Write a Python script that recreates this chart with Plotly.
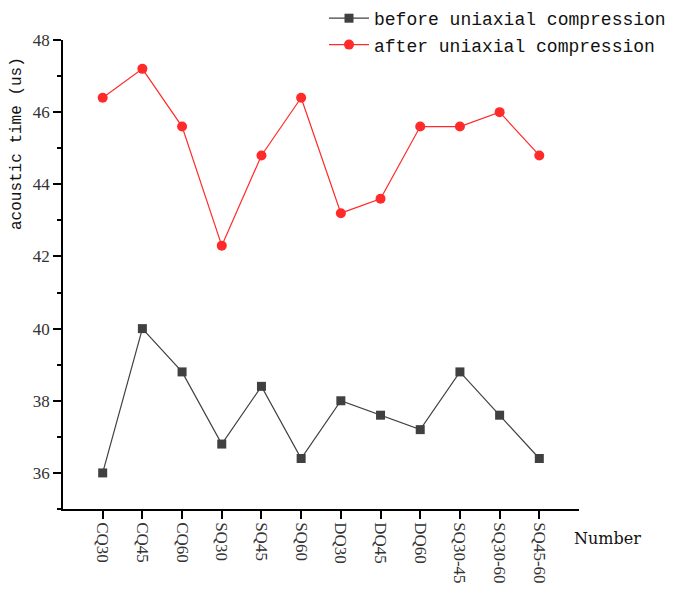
import plotly.graph_objects as go

samples = ["CQ30", "CQ45", "CQ60", "SQ30", "SQ45", "SQ60",
           "DQ30", "DQ45", "DQ60", "SQ30-45", "SQ30-60", "SQ45-60"]
before = [36.0, 40.0, 38.8, 36.8, 38.4, 36.4, 38.0, 37.6, 37.2, 38.8, 37.6, 36.4]
after = [46.4, 47.2, 45.6, 42.3, 44.8, 46.4, 43.2, 43.6, 45.6, 45.6, 46.0, 44.8]
y_ticks = [36, 38, 40, 42, 44, 46, 48]

idx = list(range(len(samples)))

# page has an 8px body offset, so margins are shifted to compensate
OFF = 8
W, H = 685, 597
L, T = 63 - OFF, 40 - OFF
pw, ph = 516, 469
R, B = W - L - pw, H - T - ph


def px_x(x):
    return (x - OFF - L) / pw


def px_y(y):
    return (T + ph - (y - OFF)) / ph


fig = go.Figure()

fig.add_trace(
    go.Scatter(x=idx, y=before, mode="lines+markers", name="before uniaxial compression",
               line=dict(color="#404040", width=1.2),
               marker=dict(symbol="square", size=9, color="#404040"))
)
fig.add_trace(
    go.Scatter(x=idx, y=after, mode="lines+markers", name="after uniaxial compression",
               line=dict(color="#ff2a2a", width=1.2),
               marker=dict(symbol="circle", size=10, color="#ff2a2a"))
)

tick_font = dict(family="Liberation Serif", size=17, color="#333")

fig.update_layout(
    width=W, height=H,
    margin=dict(l=L, r=R, t=T, b=B, autoexpand=False),
    plot_bgcolor="white", paper_bgcolor="white",
    showlegend=True,
    legend=dict(x=px_x(324), y=px_y(0), xanchor="left", yanchor="top",
                font=dict(family="Liberation Mono", size=18, color="#111"),
                bgcolor="rgba(0,0,0,0)", itemwidth=40, tracegroupgap=0),
    xaxis=dict(
        range=[-1, 12], tickmode="array", tickvals=idx, ticktext=samples,
        tickangle=90, tickfont=tick_font,
        showline=True, linecolor="black", linewidth=1.5,
        ticks="outside", ticklen=8, tickwidth=1.5, tickcolor="black",
        showgrid=False, zeroline=False,
    ),
    yaxis=dict(
        range=[35, 48], tickmode="array", tickvals=y_ticks,
        tickfont=tick_font,
        showline=True, linecolor="black", linewidth=1.5,
        ticks="outside", ticklen=8, tickwidth=1.5, tickcolor="black",
        minor=dict(ticks="outside", ticklen=4, tickwidth=1.5, tickcolor="black",
                   tickvals=[35, 37, 39, 41, 43, 45, 47]),
        showgrid=False, zeroline=False,
    ),
    annotations=[
        dict(text="Number", x=px_x(607), y=px_y(538), xref="paper", yref="paper",
             xanchor="center", yanchor="middle", showarrow=False,
             font=dict(family="DejaVu Serif", size=16, color="#111")),
        dict(text="acoustic time (us)", x=px_x(17), y=px_y(144), xref="paper", yref="paper",
             xanchor="center", yanchor="middle", textangle=-90, showarrow=False,
             font=dict(family="Liberation Mono", size=16, color="#111")),
    ],
)

fig.write_html("out.html")
